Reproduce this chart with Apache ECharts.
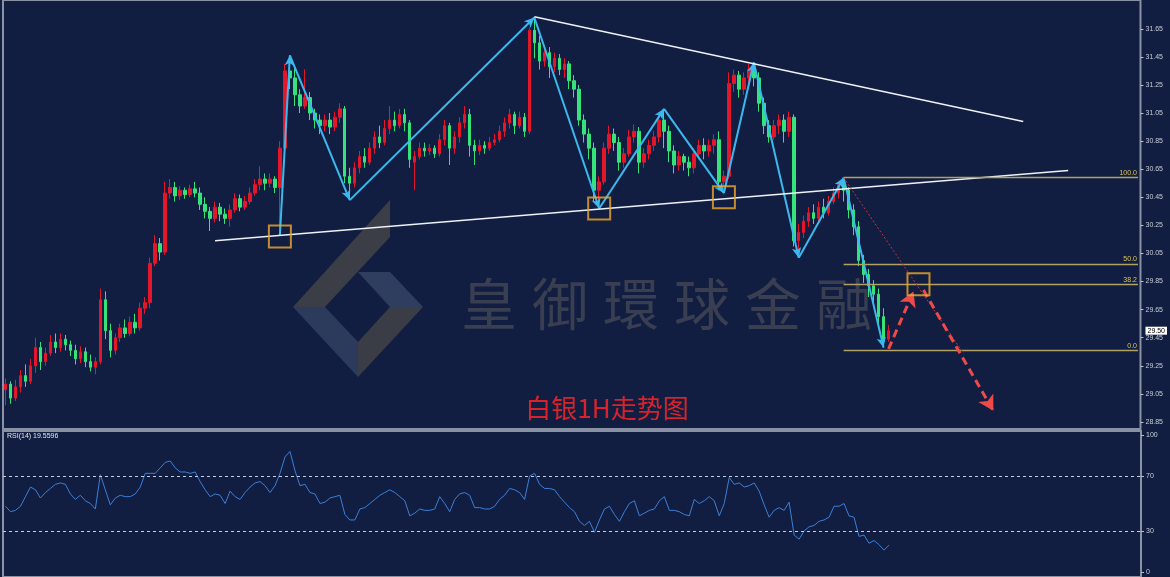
<!DOCTYPE html>
<html><head><meta charset="utf-8">
<script src="https://cdn.jsdelivr.net/npm/echarts@6/dist/echarts.min.js"></script>
<style>html,body{margin:0;padding:0;background:#111e41;}#c{width:1170px;height:577px;}</style>
</head><body><div id="c"></div>
<script>
// ---- candle data (1H bars) ----
const opens = [
29.08,29.12,29.02,29.10,29.18,29.14,29.25,29.38,29.28,29.34,
29.42,29.38,29.44,29.40,29.36,29.30,29.35,29.28,29.24,29.28,
29.72,29.50,29.36,29.45,29.52,29.48,29.56,29.52,29.66,29.70,
29.98,30.12,30.06,30.48,30.52,30.46,30.50,30.47,30.51,30.48,
30.40,30.35,30.30,30.38,30.33,30.30,30.36,30.44,30.38,30.42,
30.48,30.54,30.58,30.55,30.58,30.52,30.80,31.35,31.30,31.18,
31.10,31.16,31.05,31.00,30.96,31.00,30.95,31.02,31.08,30.60,
30.55,30.66,30.74,30.70,30.80,30.88,30.84,30.94,31.00,30.96,
31.04,30.98,30.70,30.74,30.80,30.78,30.80,30.76,30.86,30.96,
30.80,30.88,30.98,31.04,30.82,30.78,30.82,30.80,30.84,30.86,
30.92,30.98,31.04,30.96,31.02,30.92,31.64,31.55,31.42,31.48,
31.38,31.44,31.36,31.40,31.28,31.22,31.00,30.90,30.80,30.50,
30.56,30.80,30.90,30.84,30.70,30.76,30.88,30.92,30.70,30.76,
30.82,30.88,31.00,30.92,30.78,30.68,30.74,30.70,30.66,30.76,
30.82,30.78,30.82,30.86,30.56,30.60,31.26,31.32,31.22,31.30,
31.36,31.30,31.12,30.96,30.88,30.96,31.00,30.92,31.02,30.14,
30.20,30.28,30.34,30.30,30.38,30.34,30.42,30.48,30.54,30.50,
30.36,30.24,30.00,29.90,29.82,29.76,29.60,29.44];
const closes = [
29.12,29.02,29.10,29.18,29.14,29.25,29.38,29.28,29.34,29.42,
29.38,29.44,29.40,29.36,29.30,29.35,29.28,29.24,29.28,29.72,
29.50,29.36,29.45,29.52,29.48,29.56,29.52,29.66,29.70,29.98,
30.12,30.06,30.48,30.52,30.46,30.50,30.47,30.51,30.48,30.40,
30.35,30.30,30.38,30.33,30.30,30.36,30.44,30.38,30.42,30.48,
30.54,30.58,30.55,30.58,30.52,30.80,31.35,31.30,31.18,31.10,
31.16,31.05,31.00,30.96,31.00,30.95,31.02,31.08,30.60,30.55,
30.66,30.74,30.70,30.80,30.88,30.84,30.94,31.00,30.96,31.04,
30.98,30.72,30.74,30.80,30.78,30.80,30.76,30.86,30.96,30.80,
30.88,30.98,31.04,30.82,30.78,30.82,30.80,30.84,30.86,30.92,
30.98,31.04,30.96,31.02,30.92,31.64,31.55,31.42,31.48,31.38,
31.44,31.36,31.40,31.28,31.22,31.00,30.90,30.80,30.50,30.56,
30.80,30.90,30.84,30.70,30.76,30.88,30.92,30.70,30.76,30.82,
30.88,31.00,30.92,30.78,30.68,30.74,30.70,30.66,30.76,30.82,
30.78,30.82,30.86,30.56,30.60,31.26,31.32,31.22,31.30,31.36,
31.30,31.12,30.96,30.88,30.96,31.00,30.92,31.02,30.14,30.20,
30.28,30.34,30.30,30.38,30.34,30.42,30.48,30.54,30.50,30.36,
30.24,30.00,29.90,29.82,29.76,29.60,29.44,29.50];
const lows = [
28.97,28.98,29.00,29.06,29.10,29.12,29.20,29.22,29.25,29.32,
29.34,29.35,29.36,29.32,29.26,29.27,29.24,29.21,29.19,29.26,
29.44,29.31,29.33,29.42,29.45,29.46,29.48,29.50,29.62,29.66,
29.96,30.00,30.04,30.44,30.42,30.43,30.44,30.45,30.45,30.36,
30.30,30.21,30.27,30.28,30.26,30.24,30.34,30.35,30.36,30.40,
30.46,30.50,30.50,30.52,30.48,30.18,30.76,31.22,31.10,31.05,
31.08,31.00,30.94,30.90,30.92,30.90,30.92,30.98,30.55,30.43,
30.52,30.62,30.66,30.68,30.76,30.80,30.82,30.90,30.92,30.94,
30.92,30.66,30.50,30.72,30.74,30.75,30.73,30.74,30.82,30.68,
30.76,30.84,30.94,30.74,30.68,30.75,30.76,30.78,30.82,30.84,
30.88,30.94,30.90,30.94,30.88,30.90,31.44,31.36,31.38,31.30,
31.34,31.32,31.30,31.22,31.16,30.96,30.84,30.72,30.42,30.38,
30.54,30.76,30.78,30.64,30.66,30.74,30.84,30.62,30.66,30.72,
30.78,30.84,30.80,30.70,30.62,30.64,30.64,30.60,30.62,30.72,
30.72,30.74,30.76,30.50,30.48,30.58,31.20,31.16,31.18,31.26,
31.24,31.06,30.90,30.84,30.86,30.90,30.84,30.88,30.10,30.02,
30.16,30.24,30.26,30.28,30.30,30.32,30.40,30.44,30.42,30.30,
30.18,29.96,29.84,29.74,29.70,29.52,29.38,29.42];
const highs = [
29.16,29.14,29.15,29.22,29.26,29.30,29.45,29.42,29.38,29.47,
29.48,29.48,29.47,29.43,29.40,29.39,29.38,29.33,29.31,29.80,
29.78,29.55,29.48,29.55,29.58,29.60,29.62,29.70,29.74,30.02,
30.18,30.16,30.56,30.58,30.56,30.53,30.52,30.54,30.56,30.52,
30.45,30.38,30.42,30.41,30.37,30.40,30.48,30.47,30.46,30.52,
30.58,30.67,30.62,30.62,30.60,30.85,31.40,31.46,31.38,31.22,
31.36,31.20,31.08,31.04,31.04,31.05,31.06,31.12,31.10,30.66,
30.70,30.78,30.80,30.84,30.92,30.96,31.00,31.10,31.06,31.08,
31.08,31.00,30.78,30.84,30.84,30.83,30.82,30.90,31.00,30.98,
30.92,31.02,31.10,31.08,30.86,30.86,30.85,30.88,30.90,30.96,
31.02,31.08,31.06,31.06,31.05,31.66,31.73,31.60,31.52,31.52,
31.48,31.47,31.44,31.42,31.32,31.25,31.04,30.94,30.84,30.60,
30.84,30.96,30.94,30.88,30.80,30.93,30.97,30.95,30.80,30.86,
30.92,31.04,31.08,30.96,30.82,30.78,30.76,30.74,30.80,30.86,
30.87,30.86,30.90,30.92,30.64,31.34,31.36,31.35,31.34,31.40,
31.41,31.34,31.16,31.00,31.00,31.04,31.04,31.06,31.04,30.26,
30.32,30.38,30.40,30.42,30.44,30.46,30.52,30.56,30.59,30.52,
30.40,30.28,30.04,29.94,29.86,29.80,29.66,29.54];
// ---- RSI(14) ----
const rsi = [
48,44,45,48,55,62,60,54,58,61,
64,65,64,57,53,56,52,50,46,71,
60,49,54,56,55,55,57,62,72,72,
72,76,80,81,76,73,73,72,73,66,
60,55,57,56,50,59,55,53,58,62,
65,66,63,58,63,72,84,88,74,63,
64,58,57,50,51,54,55,56,42,38,
38,46,47,50,53,56,58,60,58,55,
52,41,43,46,45,45,46,55,50,44,
53,57,58,56,47,47,46,46,48,53,
56,61,60,58,53,70,72,64,61,61,
60,55,51,47,44,37,34,37,29,38,
46,48,42,37,44,50,52,41,43,45,
46,52,55,45,45,44,42,41,53,50,
52,55,52,41,50,69,64,65,62,63,
65,59,49,40,45,47,45,51,27,24,
30,33,34,37,38,40,48,48,50,41,
40,26,27,21,23,20,16,19.5596];
// ---- axis ticks ----
const priceTicks = [28.85,29.05,29.25,29.45,29.65,29.85,30.05,30.25,30.45,30.65,30.85,31.05,31.25,31.45,31.65];
const rsiTicks = [0,30,70,100];
const rsiGuides = [70,30];
const lastPrice = 29.50;
// ---- analysis overlays [barIndex, price] ----
const zigzag = [[55,30.18],[57,31.46],[69,30.43],[106,31.73],[119,30.37],[132,31.08],[144,30.48],[150,31.41],[159,30.02],[168,30.59],[176,29.38]];
const trendLower = [[42,30.14],[213,30.64]];
const trendUpper = [[106,31.735],[204,30.99]];
const projDotted = [[168,30.59],[192,29.34]];
const projUp = [[177,29.37],[182,29.78]];
const projDown = [[184,29.79],[198,28.93]];
const boxes = [[55,30.17],[119,30.37],[144,30.45],[183,29.83]];
const fibHigh = 30.59, fibLow = 29.36, fibStart = 168, fibEnd = 227;
const fibLevels = [100.0, 50.0, 38.2, 0.0];
const fibLabels = ['100.0','50.0','38.2','0.0'];
const titleText = '白银1H走势图';
const watermark = '皇御環球金融';

const N = 228;
const categories = Array.from({length: N}, (_, i) => String(i));
const candleData = opens.map((o, i) => [o, closes[i], lows[i], highs[i]]);

const mk = [];
const zzStyle = {color: '#3bb9ef', width: 2, type: 'solid'};
for (let k = 0; k < zigzag.length - 1; k++) {
  mk.push([{coord: zigzag[k], symbol: 'none', lineStyle: zzStyle},
           {coord: zigzag[k + 1], symbol: 'arrow', symbolSize: [7, 10]}]);
}
const wStyle = {color: '#eef1f6', width: 1.5, type: 'solid'};
mk.push([{coord: trendLower[0], symbol: 'none', lineStyle: wStyle}, {coord: trendLower[1], symbol: 'none'}]);
mk.push([{coord: trendUpper[0], symbol: 'none', lineStyle: wStyle}, {coord: trendUpper[1], symbol: 'none'}]);
fibLevels.forEach((lv, i) => {
  const p = fibLow + (fibHigh - fibLow) * lv / 100;
  mk.push([{coord: [fibStart, p], symbol: 'none',
            lineStyle: {color: '#b0a262', width: 1.3, type: 'solid'},
            label: {show: true, formatter: fibLabels[i], position: 'insideEndTop', distance: 1,
                    color: '#dcc65a', fontSize: 7, fontFamily: 'Liberation Sans'}},
           {coord: [fibEnd, p], symbol: 'none'}]);
});
mk.push([{coord: projDotted[0], symbol: 'none', lineStyle: {color: '#c9343a', width: 1, type: [2, 2]}},
         {coord: projDotted[1], symbol: 'none'}]);
const rStyle = {color: '#ee4a4a', width: 3, type: [8, 5]};
mk.push([{coord: projUp[0], symbol: 'none', lineStyle: rStyle}, {coord: projUp[1], symbol: 'arrow', symbolSize: [13, 15]}]);
mk.push([{coord: projDown[0], symbol: 'none', lineStyle: rStyle}, {coord: projDown[1], symbol: 'arrow', symbolSize: [13, 15]}]);

// watermark logo & text (decoration)
const graphics = [
  {type: 'polygon', shape: {points: [[390,200],[390,237],[325,307],[293,307]]}, style: {fill: '#3b3d47'}},
  {type: 'polygon', shape: {points: [[293,307],[325,307],[358,342],[358,377]]}, style: {fill: '#2c3a5b'}},
  {type: 'polygon', shape: {points: [[358,272],[390,272],[423,307],[390,307]]}, style: {fill: '#2f3d5f'}},
  {type: 'polygon', shape: {points: [[390,307],[423,307],[358,377],[358,342]]}, style: {fill: '#3b3d46'}}
];
Array.from(watermark).forEach((ch, i) => {
  graphics.push({type: 'text', x: 489 + i * 71, y: 304,
    style: {text: ch, fill: '#393e51', font: '56px "Noto Sans CJK TC"', align: 'center', verticalAlign: 'middle'}});
});
graphics.push({type: 'text', x: 607, y: 408, z: 10,
  style: {text: titleText, fill: '#d9232b', font: '26px "Noto Sans CJK SC"', align: 'center', verticalAlign: 'middle'}});
graphics.push({type: 'text', x: 7, y: 433, z: 10,
  style: {text: 'RSI(14) ' + rsi[rsi.length - 1].toFixed(4), fill: '#e4e6ea', font: '7px "Liberation Sans"', align: 'left', verticalAlign: 'top'}});

const chart = echarts.init(document.getElementById('c'));
chart.setOption({
  animation: false,
  backgroundColor: '#111e41',
  graphic: graphics,
  grid: [
    {left: 3, right: 29, top: -3, height: 432, show: true, borderColor: '#8991a4', borderWidth: 2, backgroundColor: 'transparent'},
    {left: 3, right: 29, top: 431, height: 148, show: true, borderColor: '#8991a4', borderWidth: 2, backgroundColor: 'transparent'}
  ],
  xAxis: [
    {type: 'category', gridIndex: 0, data: categories, show: false, boundaryGap: true},
    {type: 'category', gridIndex: 1, data: categories, show: false, boundaryGap: true}
  ],
  yAxis: [
    {type: 'value', gridIndex: 0, position: 'right', min: 28.80, max: 31.855,
     axisLine: {show: false}, splitLine: {show: false},
     axisTick: {show: true, length: 3, lineStyle: {color: '#b8bfcc'}, customValues: priceTicks},
     axisLabel: {margin: 5, color: '#c8cdd8', fontSize: 7, fontFamily: 'Liberation Sans',
       customValues: priceTicks.concat([lastPrice]),
       formatter: v => Math.abs(v - lastPrice) < 1e-6 ? '{cur|' + v.toFixed(2) + '}' : v.toFixed(2),
       rich: {cur: {backgroundColor: '#ffffff', color: '#000000', padding: [1, 2, 0, 2], fontSize: 7, fontFamily: 'Liberation Sans'}}}},
    {type: 'value', gridIndex: 1, position: 'right', min: -3.6, max: 102.88,
     axisLine: {show: false}, splitLine: {show: false},
     axisTick: {show: true, length: 3, lineStyle: {color: '#b8bfcc'}, customValues: rsiTicks},
     axisLabel: {margin: 5, color: '#c8cdd8', fontSize: 7, fontFamily: 'Liberation Sans', customValues: rsiTicks,
       formatter: v => String(Math.round(v))}}
  ],
  series: [
    {type: 'candlestick', xAxisIndex: 0, yAxisIndex: 0, data: candleData, barWidth: 3,
     itemStyle: {color: '#e3162a', color0: '#36e27a', borderColor: '#e3162a', borderColor0: '#36e27a', borderWidth: 1},
     markLine: {silent: true, animation: false, symbol: ['none', 'none'], label: {show: false},
       emphasis: {disabled: true}, data: mk}},
    {type: 'scatter', xAxisIndex: 0, yAxisIndex: 0, data: boxes, symbol: 'rect', symbolSize: 22, z: 5,
     itemStyle: {color: 'rgba(0,0,0,0)', borderColor: '#f0a82c', borderWidth: 2}, silent: true},
    {type: 'line', xAxisIndex: 1, yAxisIndex: 1, data: rsi, symbol: 'none',
     lineStyle: {color: '#3d7fd8', width: 1},
     markLine: {silent: true, animation: false, symbol: ['none', 'none'], label: {show: false},
       lineStyle: {color: '#c9cfdc', type: [3, 3], width: 1},
       data: rsiGuides.map(v => ({yAxis: v}))}}
  ]
});
</script>
</body></html>
